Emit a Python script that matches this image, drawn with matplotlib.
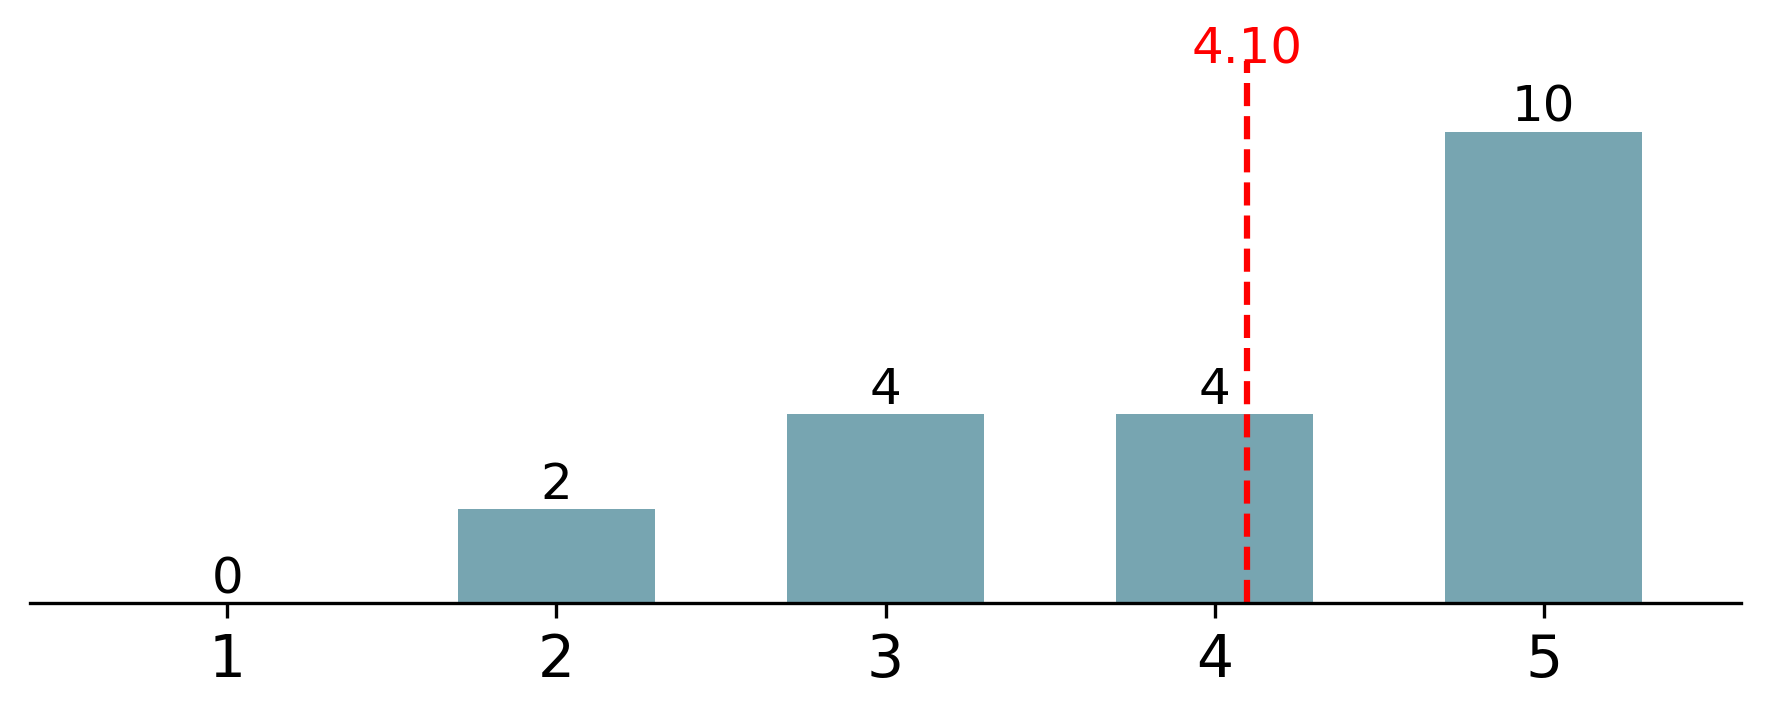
import matplotlib
matplotlib.use("Agg")
import matplotlib.pyplot as plt

categories = [1, 2, 3, 4, 5]
counts = [0, 2, 4, 4, 10]
mean_value = 4.10

fig = plt.figure(figsize=(5.9, 2.3967), dpi=300)
ax = fig.add_axes([30 / 1770, 116 / 719, 1711 / 1770, 542 / 719])

bars = ax.bar(categories, counts, width=0.6, color="#77a5b1")
for x, c in zip(categories, counts):
    ax.text(x, c, str(c), ha="center", va="bottom", fontsize=12)

ax.axvline(mean_value, color="red", linestyle="--", linewidth=1.5)
ax.text(mean_value, 11.75, f"{mean_value:.2f}", color="red", ha="center",
        va="center", fontsize=12, clip_on=False)

ax.set_xlim(0.4, 5.6)
ax.set_ylim(0, 11.5)
ax.set_xticks(categories)
ax.tick_params(axis="x", labelsize=14)
ax.set_yticks([])
for s in ("left", "right", "top"):
    ax.spines[s].set_visible(False)

fig.savefig("out.png", dpi=300)
